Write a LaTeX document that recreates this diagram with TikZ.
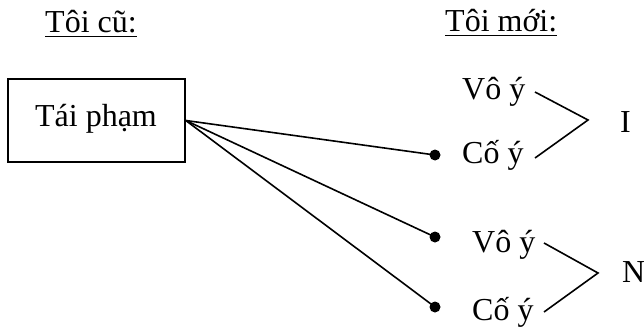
\documentclass[tikz,border=0pt]{standalone}
\usepackage{fontspec}
\setmainfont{Liberation Serif}
\begin{document}
\begin{tikzpicture}[x=1pt,y=-1pt,
  lbl/.style={inner sep=0pt,anchor=base west,font=\fontsize{32}{38}\selectfont},
  pt/.style={circle,fill=black,inner sep=0pt,minimum size=11pt},
  wire/.style={line width=1.6pt},
  uline/.style={line width=1.5pt}]
\useasboundingbox (0,0) rectangle (644,329);

% column headings
\node[lbl] (old) at (45,33) {Tôi cũ:};
\node[lbl] (new) at (445,32) {Tôi mới:};
\draw[uline] ([yshift=-3.5pt]old.base west) -- ([yshift=-3.5pt]old.base east);
\draw[uline] ([yshift=-3.5pt]new.base west) -- ([yshift=-3.5pt]new.base east);

% old offence
\node[draw,line width=1.6pt,minimum width=177pt,minimum height=83pt,inner sep=0pt] (box) at (96.5,120.5) {};
\node[lbl,anchor=base] (tp) at (96,126) {Tái phạm};

% endpoints
\node[pt] (d1) at (435,155) {};
\node[pt] (d2) at (435,237) {};
\node[pt] (d3) at (435,307) {};
\draw[wire] (box.east) -- (d1.center);
\draw[wire] (box.east) -- (d2.center);
\draw[wire] (box.east) -- (d3.center);

% new offence, group I
\node[lbl] (v1) at (462,99) {Vô ý};
\node[lbl] (c1) at (462,163) {Cố ý};
\node[lbl] (gI) at (620,132) {I};
\coordinate (a1) at (535,92);
\coordinate (k1) at (588,120);
\coordinate (b1) at (535,158);
\draw[wire] (a1) -- (k1) -- (b1);

% new offence, group N
\node[lbl] (v2) at (472,252) {Vô ý};
\node[lbl] (c2) at (472,320) {Cố ý};
\node[lbl] (gN) at (622,282) {N};
\coordinate (a2) at (544,243);
\coordinate (k2) at (598,273);
\coordinate (b2) at (544,312);
\draw[wire] (a2) -- (k2) -- (b2);
\end{tikzpicture}
\end{document}
